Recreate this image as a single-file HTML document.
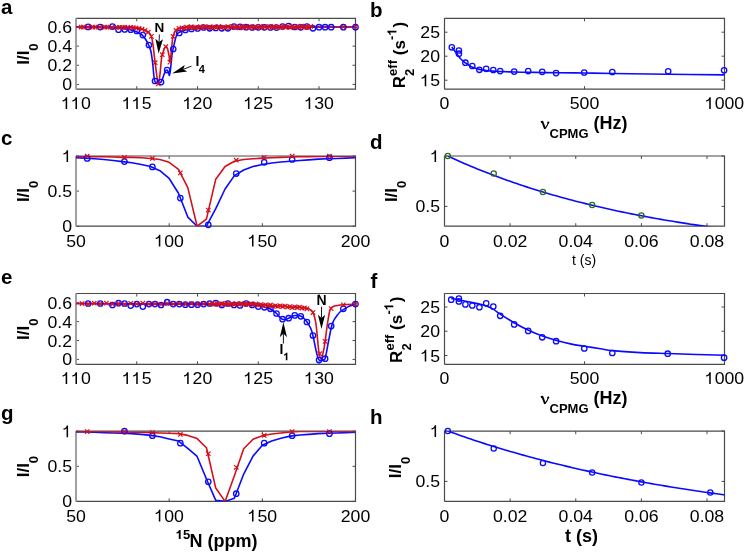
<!DOCTYPE html>
<html><head><meta charset="utf-8"><title>Figure</title>
<style>html,body{margin:0;padding:0;background:#fff;width:744px;height:552px;overflow:hidden;}svg{display:block;will-change:transform;}</style>
</head><body>
<svg width="744" height="552" viewBox="0 0 744 552" font-family='&quot;Liberation Sans&quot;, sans-serif' fill="#000">
<rect width="744" height="552" fill="#fff"/>
<defs>
<clipPath id="ca"><rect x="76" y="18.3" width="279.5" height="70.9"/></clipPath>
<clipPath id="cb"><rect x="444.5" y="18.3" width="280" height="70.9"/></clipPath>
<clipPath id="cc"><rect x="76" y="156" width="279.5" height="70.2"/></clipPath>
<clipPath id="cd"><rect x="444.5" y="156" width="280" height="70.2"/></clipPath>
<clipPath id="ce"><rect x="76" y="293.5" width="279.5" height="70.8"/></clipPath>
<clipPath id="cf"><rect x="444.5" y="293.5" width="280" height="70.8"/></clipPath>
<clipPath id="cg"><rect x="76" y="431.2" width="279.5" height="70.2"/></clipPath>
<clipPath id="ch"><rect x="444.5" y="431.2" width="280" height="70.2"/></clipPath>
</defs>
<path d="M76 89.2L76 86.2M76 18.3L76 21.3M136.76 89.2L136.76 86.2M136.76 18.3L136.76 21.3M197.52 89.2L197.52 86.2M197.52 18.3L197.52 21.3M258.28 89.2L258.28 86.2M258.28 18.3L258.28 21.3M319.04 89.2L319.04 86.2M319.04 18.3L319.04 21.3M76 84.4L79 84.4M355.5 84.4L352.5 84.4M76 65.26L79 65.26M355.5 65.26L352.5 65.26M76 46.12L79 46.12M355.5 46.12L352.5 46.12M76 26.98L79 26.98M355.5 26.98L352.5 26.98" stroke="#4a4a4a" stroke-width="1" fill="none"/>
<path d="M76 89.2L355.5 89.2L355.5 18.3L76 18.3" stroke="#4a4a4a" stroke-width="1.2" fill="none"/>
<line x1="76" y1="18.3" x2="76" y2="89.2" stroke="#a0a0a0" stroke-width="2"/>
<g clip-path="url(#ca)">
<path d="M76 27C80 27.03 93.83 27.1 100 27.2C106.17 27.3 109.67 27.43 113 27.6C116.33 27.77 117.83 27.97 120 28.2C122.17 28.43 124.17 28.7 126 29C127.83 29.3 129.33 29.58 131 30C132.67 30.42 134.5 30.9 136 31.5C137.5 32.1 138.95 33 140 33.6C141.05 34.2 141.53 34.35 142.3 35.1C143.07 35.85 143.88 37.12 144.6 38.1C145.32 39.08 145.93 39.85 146.6 41C147.27 42.15 147.88 43.28 148.6 45C149.32 46.72 150.23 48.35 150.9 51.3C151.57 54.25 152.13 58.9 152.6 62.7C153.07 66.5 153.37 71.12 153.7 74.1C154.03 77.08 154.25 79.22 154.6 80.6C154.95 81.98 155.38 82.02 155.8 82.4C156.22 82.78 156.57 82.82 157.1 82.9C157.63 82.98 158.33 83.03 159 82.9C159.67 82.77 160.45 82.98 161.1 82.1C161.75 81.22 162.23 79.3 162.9 77.6C163.57 75.9 164.4 73.15 165.1 71.9C165.8 70.65 166.52 69.92 167.1 70.1C167.68 70.28 168.2 72.13 168.6 73C169 73.87 169.17 76.07 169.5 75.3C169.83 74.53 170.18 71.83 170.6 68.4C171.02 64.97 171.58 57.93 172 54.7C172.42 51.47 172.62 51.28 173.1 49C173.58 46.72 174.32 43.28 174.9 41C175.48 38.72 176.03 36.63 176.6 35.3C177.17 33.97 177.57 33.63 178.3 33C179.03 32.37 179.88 31.97 181 31.5C182.12 31.03 183.5 30.58 185 30.2C186.5 29.82 187.5 29.53 190 29.2C192.5 28.87 195.83 28.47 200 28.2C204.17 27.93 208.33 27.77 215 27.6C221.67 27.43 216.58 27.3 240 27.2C263.42 27.1 336.25 27.03 355.5 27" stroke="#0a0aff" stroke-width="1.6" fill="none"/>
<path d="M76 27C85 27.07 119.33 27.17 130 27.4C140.67 27.63 137.57 27.95 140 28.4C142.43 28.85 143.17 29.43 144.6 30.1C146.03 30.77 147.47 31.35 148.6 32.4C149.73 33.45 150.65 34.2 151.4 36.4C152.15 38.6 152.62 42.35 153.1 45.6C153.58 48.85 153.95 53.05 154.3 55.9C154.65 58.75 154.82 59.67 155.2 62.7C155.58 65.73 156.08 70.57 156.6 74.1C157.12 77.63 157.73 83.9 158.3 83.9C158.87 83.9 159.48 78.2 160 74.1C160.52 70 161.02 62.53 161.4 59.3C161.78 56.07 161.87 56.32 162.3 54.7C162.73 53.08 163.43 50.93 164 49.6C164.57 48.27 165.13 46.9 165.7 46.7C166.27 46.5 166.83 46.87 167.4 48.4C167.97 49.93 168.68 53.62 169.1 55.9C169.52 58.18 169.57 62.48 169.9 62.1C170.23 61.72 170.72 56.93 171.1 53.6C171.48 50.27 171.87 44.97 172.2 42.1C172.53 39.23 172.65 38.1 173.1 36.4C173.55 34.7 174.32 33.03 174.9 31.9C175.48 30.77 175.93 30.18 176.6 29.6C177.27 29.02 177.5 28.73 178.9 28.4C180.3 28.07 181.48 27.8 185 27.6C188.52 27.4 171.58 27.33 200 27.2C228.42 27.07 329.58 26.87 355.5 26.8" stroke="#d4101c" stroke-width="1.6" fill="none"/>
</g>
<circle cx="88.15" cy="26.9" r="2.7" fill="none" stroke="#0a0aff" stroke-width="1.3"/>
<circle cx="100.3" cy="27.1" r="2.7" fill="none" stroke="#0a0aff" stroke-width="1.3"/>
<circle cx="112.46" cy="26.6" r="2.7" fill="none" stroke="#0a0aff" stroke-width="1.3"/>
<circle cx="118.53" cy="29.7" r="2.7" fill="none" stroke="#0a0aff" stroke-width="1.3"/>
<circle cx="124.61" cy="29.5" r="2.7" fill="none" stroke="#0a0aff" stroke-width="1.3"/>
<circle cx="130.68" cy="29.7" r="2.7" fill="none" stroke="#0a0aff" stroke-width="1.3"/>
<circle cx="136.76" cy="31" r="2.7" fill="none" stroke="#0a0aff" stroke-width="1.3"/>
<circle cx="142.84" cy="35.1" r="2.7" fill="none" stroke="#0a0aff" stroke-width="1.3"/>
<circle cx="148.91" cy="45" r="2.7" fill="none" stroke="#0a0aff" stroke-width="1.3"/>
<circle cx="154.99" cy="81" r="2.7" fill="none" stroke="#0a0aff" stroke-width="1.3"/>
<circle cx="161.07" cy="82.1" r="2.7" fill="none" stroke="#0a0aff" stroke-width="1.3"/>
<circle cx="167.14" cy="70.1" r="2.7" fill="none" stroke="#0a0aff" stroke-width="1.3"/>
<circle cx="173.22" cy="49" r="2.7" fill="none" stroke="#0a0aff" stroke-width="1.3"/>
<circle cx="179.29" cy="33" r="2.7" fill="none" stroke="#0a0aff" stroke-width="1.3"/>
<circle cx="185.37" cy="30" r="2.7" fill="none" stroke="#0a0aff" stroke-width="1.3"/>
<circle cx="191.45" cy="29" r="2.7" fill="none" stroke="#0a0aff" stroke-width="1.3"/>
<circle cx="197.52" cy="28.5" r="2.7" fill="none" stroke="#0a0aff" stroke-width="1.3"/>
<circle cx="203.6" cy="27.5" r="2.7" fill="none" stroke="#0a0aff" stroke-width="1.3"/>
<circle cx="209.67" cy="28.3" r="2.7" fill="none" stroke="#0a0aff" stroke-width="1.3"/>
<circle cx="215.75" cy="28" r="2.7" fill="none" stroke="#0a0aff" stroke-width="1.3"/>
<circle cx="221.83" cy="28.3" r="2.7" fill="none" stroke="#0a0aff" stroke-width="1.3"/>
<circle cx="227.9" cy="28.3" r="2.7" fill="none" stroke="#0a0aff" stroke-width="1.3"/>
<circle cx="233.98" cy="26.5" r="2.7" fill="none" stroke="#0a0aff" stroke-width="1.3"/>
<circle cx="240.05" cy="26.8" r="2.7" fill="none" stroke="#0a0aff" stroke-width="1.3"/>
<circle cx="246.13" cy="27.2" r="2.7" fill="none" stroke="#0a0aff" stroke-width="1.3"/>
<circle cx="252.21" cy="27.5" r="2.7" fill="none" stroke="#0a0aff" stroke-width="1.3"/>
<circle cx="258.28" cy="27.3" r="2.7" fill="none" stroke="#0a0aff" stroke-width="1.3"/>
<circle cx="264.36" cy="27.3" r="2.7" fill="none" stroke="#0a0aff" stroke-width="1.3"/>
<circle cx="270.43" cy="27.5" r="2.7" fill="none" stroke="#0a0aff" stroke-width="1.3"/>
<circle cx="276.51" cy="27.6" r="2.7" fill="none" stroke="#0a0aff" stroke-width="1.3"/>
<circle cx="282.59" cy="26.5" r="2.7" fill="none" stroke="#0a0aff" stroke-width="1.3"/>
<circle cx="288.66" cy="26" r="2.7" fill="none" stroke="#0a0aff" stroke-width="1.3"/>
<circle cx="294.74" cy="27" r="2.7" fill="none" stroke="#0a0aff" stroke-width="1.3"/>
<circle cx="300.82" cy="27.3" r="2.7" fill="none" stroke="#0a0aff" stroke-width="1.3"/>
<circle cx="306.89" cy="26.6" r="2.7" fill="none" stroke="#0a0aff" stroke-width="1.3"/>
<circle cx="312.97" cy="28.3" r="2.7" fill="none" stroke="#0a0aff" stroke-width="1.3"/>
<circle cx="319.04" cy="27.2" r="2.7" fill="none" stroke="#0a0aff" stroke-width="1.3"/>
<circle cx="325.12" cy="27.2" r="2.7" fill="none" stroke="#0a0aff" stroke-width="1.3"/>
<circle cx="331.2" cy="27.2" r="2.7" fill="none" stroke="#0a0aff" stroke-width="1.3"/>
<circle cx="343.35" cy="27.2" r="2.7" fill="none" stroke="#0a0aff" stroke-width="1.3"/>
<circle cx="355.5" cy="27.2" r="2.7" fill="none" stroke="#0a0aff" stroke-width="1.3"/>
<g>
</g>
<path d="M79 24.84L83.4 29.24M79 29.24L83.4 24.84M81.1 24.85L85.5 29.25M81.1 29.25L85.5 24.85M85.7 24.89L90.1 29.29M85.7 29.29L90.1 24.89M90.7 24.93L95.1 29.33M90.7 29.33L95.1 24.93M92.8 24.94L97.2 29.34M92.8 29.34L97.2 24.94M97.6 24.98L102 29.38M97.6 29.38L102 24.98M102.7 25.01L107.1 29.41M102.7 29.41L107.1 25.01M104.7 25.03L109.1 29.43M104.7 29.43L109.1 25.03M109.7 25.07L114.1 29.47M109.7 29.47L114.1 25.07M114.9 25.1L119.3 29.5M114.9 29.5L119.3 25.1M117.3 25.12L121.7 29.52M117.3 29.52L121.7 25.12M120.2 25.14L124.6 29.54M120.2 29.54L124.6 25.14M122.6 25.16L127 29.56M122.6 29.56L127 25.16M125.4 25.18L129.8 29.58M125.4 29.58L129.8 25.18M128.6 25.28L133 29.68M128.6 29.68L133 25.28M131.1 25.53L135.5 29.93M131.1 29.93L135.5 25.53M133.8 25.8L138.2 30.2M133.8 30.2L138.2 25.8M136.8 26.1L141.2 30.5M136.8 30.5L141.2 26.1M139.8 26.94L144.2 31.34M139.8 31.34L144.2 26.94M142.8 28.13L147.2 32.53M142.8 32.53L147.2 28.13M146.1 30.03L150.5 34.43M146.1 34.43L150.5 30.03M149.2 34.2L153.6 38.6M149.2 38.6L153.6 34.2M153 60.5L157.4 64.9M153 64.9L157.4 60.5M156.1 81.7L160.5 86.1M156.1 86.1L160.5 81.7M160.1 52.5L164.5 56.9M160.1 56.9L164.5 52.5M163.5 44.5L167.9 48.9M163.5 48.9L167.9 44.5M167.7 59.9L172.1 64.3M167.7 64.3L172.1 59.9M170.9 34.2L175.3 38.6M170.9 38.6L175.3 34.2M173.8 28.21L178.2 32.61M173.8 32.61L178.2 28.21M176.8 26.19L181.2 30.59M176.8 30.59L181.2 26.19M179.8 25.59L184.2 29.99M179.8 29.99L184.2 25.59M182.1 26.19L186.5 30.59M182.1 30.59L186.5 26.19M184.4 24.96L188.8 29.36M184.4 29.36L188.8 24.96M186.7 25.5L191.1 29.9M186.7 29.9L191.1 25.5M189 24.53L193.4 28.93M189 28.93L193.4 24.53M191.3 25.57L195.7 29.97M191.3 29.97L195.7 25.57M193.6 25.11L198 29.51M193.6 29.51L198 25.11M195.9 25.65L200.3 30.05M195.9 30.05L200.3 25.65M198.2 24.5L202.6 28.9M198.2 28.9L202.6 24.5M200.5 25.29L204.9 29.69M200.5 29.69L204.9 25.29M202.8 24.39L207.2 28.79M202.8 28.79L207.2 24.39M205.1 25.48L209.5 29.88M205.1 29.88L209.5 25.48M207.4 24.78L211.8 29.18M207.4 29.18L211.8 24.78M209.7 25.67L214.1 30.07M209.7 30.07L214.1 25.67M212 24.56L216.4 28.96M212 28.96L216.4 24.56M214.3 25.16L218.7 29.56M214.3 29.56L218.7 25.16M216.6 24.25L221 28.65M216.6 28.65L221 24.25M218.9 25.35L223.3 29.75M218.9 29.75L223.3 25.35M221.2 24.94L225.6 29.34M221.2 29.34L225.6 24.94M223.5 25.53L227.9 29.93M223.5 29.93L227.9 25.53M225.8 24.43L230.2 28.83M225.8 28.83L230.2 24.43M228.1 25.22L232.5 29.62M228.1 29.62L232.5 25.22M230.4 24.32L234.8 28.72M230.4 28.72L234.8 24.32M232.7 25.41L237.1 29.81M232.7 29.81L237.1 25.41M235 24.7L239.4 29.1M235 29.1L239.4 24.7M237.3 25.6L241.7 30M237.3 30L241.7 25.6M239.6 24.49L244 28.89M239.6 28.89L244 24.49M241.9 25.09L246.3 29.49M241.9 29.49L246.3 25.09M244.2 24.18L248.6 28.58M244.2 28.58L248.6 24.18M246.5 25.27L250.9 29.67M246.5 29.67L250.9 25.27M248.8 24.87L253.2 29.27M248.8 29.27L253.2 24.87M251.1 25.46L255.5 29.86M251.1 29.86L255.5 25.46M253.4 24.36L257.8 28.76M253.4 28.76L257.8 24.36M255.7 25.15L260.1 29.55M255.7 29.55L260.1 25.15M258 24.25L262.4 28.65M258 28.65L262.4 24.25M260.3 25.34L264.7 29.74M260.3 29.74L264.7 25.34M262.6 24.63L267 29.03M262.6 29.03L267 24.63M264.9 25.53L269.3 29.93M264.9 29.93L269.3 25.53M267.2 24.42L271.6 28.82M267.2 28.82L271.6 24.42M269.5 25.02L273.9 29.42M269.5 29.42L273.9 25.02M271.8 24.11L276.2 28.51M271.8 28.51L276.2 24.11M274.1 25.2L278.5 29.6M274.1 29.6L278.5 25.2M276.4 24.8L280.8 29.2M276.4 29.2L280.8 24.8M278.7 25.39L283.1 29.79M278.7 29.79L283.1 25.39M281 24.29L285.4 28.69M281 28.69L285.4 24.29M283.3 25.08L287.7 29.48M283.3 29.48L287.7 25.08M285.6 24.17L290 28.57M285.6 28.57L290 24.17M287.9 25.27L292.3 29.67M287.9 29.67L292.3 25.27M290.2 24.56L294.6 28.96M290.2 28.96L294.6 24.56M292.5 25.46L296.9 29.86M292.5 29.86L296.9 25.46M294.8 24.35L299.2 28.75M294.8 28.75L299.2 24.35M297.1 24.94L301.5 29.34M297.1 29.34L301.5 24.94M299.4 24.04L303.8 28.44M299.4 28.44L303.8 24.04M301.7 25.13L306.1 29.53M301.7 29.53L306.1 25.13M304 24.73L308.4 29.13M304 29.13L308.4 24.73M306.3 25.32L310.7 29.72M306.3 29.72L310.7 25.32M308.6 24.21L313 28.61M308.6 28.61L313 24.21M341.2 24.63L345.6 29.03M341.2 29.03L345.6 24.63M353.3 24.6L357.7 29M353.3 29L357.7 24.6" stroke="#d4101c" stroke-width="1.2" fill="none"/>
<g>
</g>
<text transform="translate(72 90.4) scale(1.04 1)" font-size="17" font-weight="normal" text-anchor="end" >0</text>
<text transform="translate(72 71.26) scale(1.04 1)" font-size="17" font-weight="normal" text-anchor="end" >0.2</text>
<text transform="translate(72 52.12) scale(1.04 1)" font-size="17" font-weight="normal" text-anchor="end" >0.4</text>
<text transform="translate(72 32.98) scale(1.04 1)" font-size="17" font-weight="normal" text-anchor="end" >0.6</text>
<path transform="translate(61.25 109) scale(0.00863 -0.00830)" d="M686 0L510 0L510 1060Q420 985 300 935Q220 905 150 890L150 1050Q300 1090 410 1180Q490 1250 530 1409L686 1409Z"/>
<path transform="translate(71.08 109) scale(0.00863 -0.00830)" d="M686 0L510 0L510 1060Q420 985 300 935Q220 905 150 890L150 1050Q300 1090 410 1180Q490 1250 530 1409L686 1409Z"/>
<text transform="translate(76 109) scale(1.04 1)" font-size="17" font-weight="normal" text-anchor="middle" >&#8199;&#8199;0</text>
<path transform="translate(122.01 109) scale(0.00863 -0.00830)" d="M686 0L510 0L510 1060Q420 985 300 935Q220 905 150 890L150 1050Q300 1090 410 1180Q490 1250 530 1409L686 1409Z"/>
<path transform="translate(131.84 109) scale(0.00863 -0.00830)" d="M686 0L510 0L510 1060Q420 985 300 935Q220 905 150 890L150 1050Q300 1090 410 1180Q490 1250 530 1409L686 1409Z"/>
<text transform="translate(136.76 109) scale(1.04 1)" font-size="17" font-weight="normal" text-anchor="middle" >&#8199;&#8199;5</text>
<path transform="translate(182.77 109) scale(0.00863 -0.00830)" d="M686 0L510 0L510 1060Q420 985 300 935Q220 905 150 890L150 1050Q300 1090 410 1180Q490 1250 530 1409L686 1409Z"/>
<text transform="translate(197.52 109) scale(1.04 1)" font-size="17" font-weight="normal" text-anchor="middle" >&#8199;20</text>
<path transform="translate(243.53 109) scale(0.00863 -0.00830)" d="M686 0L510 0L510 1060Q420 985 300 935Q220 905 150 890L150 1050Q300 1090 410 1180Q490 1250 530 1409L686 1409Z"/>
<text transform="translate(258.28 109) scale(1.04 1)" font-size="17" font-weight="normal" text-anchor="middle" >&#8199;25</text>
<path transform="translate(304.29 109) scale(0.00863 -0.00830)" d="M686 0L510 0L510 1060Q420 985 300 935Q220 905 150 890L150 1050Q300 1090 410 1180Q490 1250 530 1409L686 1409Z"/>
<text transform="translate(319.04 109) scale(1.04 1)" font-size="17" font-weight="normal" text-anchor="middle" >&#8199;30</text>
<text transform="translate(29 64.8) rotate(-90)" font-size="17" font-weight="bold">I/I<tspan font-size="13" dy="8.6">0</tspan></text>
<text transform="translate(1 13.6)" font-size="20.5" font-weight="bold" text-anchor="start" >a</text>
<text transform="translate(159.3 31.8)" font-size="13.5" font-weight="bold" text-anchor="middle" >N</text>
<path d="M158.6 53.5L163 39.16L159.08 41.9L155.4 38.84Z" fill="#000"/>
<line x1="159.08" y1="41.9" x2="159.4" y2="34.5" stroke="#000" stroke-width="0.9"/>
<path d="M172.1 73.5L187.23 71.58L183.22 69.34L184.77 65.02Z" fill="#000"/>
<line x1="183.22" y1="69.34" x2="191.5" y2="66.1" stroke="#000" stroke-width="0.9"/>
<text transform="translate(195.5 65.8)" font-size="14" font-weight="bold" text-anchor="start" >I</text>
<text transform="translate(198.7 72.8)" font-size="11" font-weight="bold" text-anchor="start" >4</text>
<path d="M444.5 89.2L444.5 86.2M444.5 18.3L444.5 21.3M584.5 89.2L584.5 86.2M584.5 18.3L584.5 21.3M724.5 89.2L724.5 86.2M724.5 18.3L724.5 21.3M444.5 80.2L447.5 80.2M724.5 80.2L721.5 80.2M444.5 56.2L447.5 56.2M724.5 56.2L721.5 56.2M444.5 32.2L447.5 32.2M724.5 32.2L721.5 32.2" stroke="#4a4a4a" stroke-width="1" fill="none"/>
<path d="M444.5 89.2L724.5 89.2L724.5 18.3L444.5 18.3" stroke="#4a4a4a" stroke-width="1.2" fill="none"/>
<line x1="444.5" y1="18.3" x2="444.5" y2="89.2" stroke="#4a4a4a" stroke-width="1.2"/>
<g clip-path="url(#cb)">
<path d="M451.78 47.08C452.43 47.96 454.58 50.84 455.7 52.36C456.82 53.88 457.47 54.92 458.5 56.2C459.53 57.48 460.69 58.92 461.86 60.04C463.03 61.16 464.19 61.96 465.5 62.92C466.81 63.88 468.53 65.08 469.7 65.8C470.87 66.52 470.87 66.64 472.5 67.24C474.13 67.84 477.17 68.84 479.5 69.4C481.83 69.96 484.17 70.32 486.5 70.6C488.83 70.88 491.17 70.92 493.5 71.08C495.83 71.24 497 71.4 500.5 71.56C504 71.72 509.83 71.92 514.5 72.04C519.17 72.16 523.83 72.2 528.5 72.28C533.17 72.36 537.83 72.44 542.5 72.52C547.17 72.6 549.5 72.68 556.5 72.76C563.5 72.84 575.17 72.88 584.5 73C593.83 73.12 598.5 73.28 612.5 73.48C626.5 73.68 649.83 73.96 668.5 74.2C687.17 74.44 715.17 74.8 724.5 74.92" stroke="#0a0aff" stroke-width="1.6" fill="none"/>
</g>
<circle cx="451.8" cy="47.3" r="2.7" fill="none" stroke="#0a0aff" stroke-width="1.3"/>
<circle cx="458.9" cy="50.5" r="2.7" fill="none" stroke="#0a0aff" stroke-width="1.3"/>
<circle cx="458.9" cy="53.7" r="2.7" fill="none" stroke="#0a0aff" stroke-width="1.3"/>
<circle cx="465.4" cy="62.7" r="2.7" fill="none" stroke="#0a0aff" stroke-width="1.3"/>
<circle cx="472.3" cy="66" r="2.7" fill="none" stroke="#0a0aff" stroke-width="1.3"/>
<circle cx="479.4" cy="69.8" r="2.7" fill="none" stroke="#0a0aff" stroke-width="1.3"/>
<circle cx="486.2" cy="68.8" r="2.7" fill="none" stroke="#0a0aff" stroke-width="1.3"/>
<circle cx="493.3" cy="70" r="2.7" fill="none" stroke="#0a0aff" stroke-width="1.3"/>
<circle cx="500.2" cy="71.1" r="2.7" fill="none" stroke="#0a0aff" stroke-width="1.3"/>
<circle cx="514.2" cy="71.6" r="2.7" fill="none" stroke="#0a0aff" stroke-width="1.3"/>
<circle cx="528.2" cy="71.1" r="2.7" fill="none" stroke="#0a0aff" stroke-width="1.3"/>
<circle cx="542.2" cy="71.8" r="2.7" fill="none" stroke="#0a0aff" stroke-width="1.3"/>
<circle cx="556.1" cy="73.1" r="2.7" fill="none" stroke="#0a0aff" stroke-width="1.3"/>
<circle cx="584.2" cy="72.5" r="2.7" fill="none" stroke="#0a0aff" stroke-width="1.3"/>
<circle cx="612.3" cy="72" r="2.7" fill="none" stroke="#0a0aff" stroke-width="1.3"/>
<circle cx="668.2" cy="71.3" r="2.7" fill="none" stroke="#0a0aff" stroke-width="1.3"/>
<circle cx="724.1" cy="70.3" r="2.7" fill="none" stroke="#0a0aff" stroke-width="1.3"/>
<g>
</g>
<path transform="translate(420.33 86.2) scale(0.00863 -0.00830)" d="M686 0L510 0L510 1060Q420 985 300 935Q220 905 150 890L150 1050Q300 1090 410 1180Q490 1250 530 1409L686 1409Z"/>
<text transform="translate(440 86.2) scale(1.04 1)" font-size="17" font-weight="normal" text-anchor="end" >&#8199;5</text>
<text transform="translate(440 62.2) scale(1.04 1)" font-size="17" font-weight="normal" text-anchor="end" >20</text>
<text transform="translate(440 38.2) scale(1.04 1)" font-size="17" font-weight="normal" text-anchor="end" >25</text>
<text transform="translate(444.5 109) scale(1.04 1)" font-size="17" font-weight="normal" text-anchor="middle" >0</text>
<text transform="translate(584.5 109) scale(1.04 1)" font-size="17" font-weight="normal" text-anchor="middle" >500</text>
<path transform="translate(704.83 109) scale(0.00863 -0.00830)" d="M686 0L510 0L510 1060Q420 985 300 935Q220 905 150 890L150 1050Q300 1090 410 1180Q490 1250 530 1409L686 1409Z"/>
<text transform="translate(724.5 109) scale(1.04 1)" font-size="17" font-weight="normal" text-anchor="middle" >&#8199;000</text>
<text transform="translate(370 17.2)" font-size="20.5" font-weight="bold" text-anchor="start" >b</text>
<g transform="translate(404.6 88.2) rotate(-90)" font-weight="bold"><text font-size="17">R</text><text x="12.3" y="9.4" font-size="13">2</text><text x="12.3" y="-8" font-size="13">eff</text><text x="33" font-size="17">(s</text><text x="48.3" y="-8.2" font-size="13">-</text><path transform="translate(52.63 -8.2) scale(0.00635 -0.00635)" d="M760 0L470 0L470 1000Q360 930 250 890Q180 865 120 855L120 1080Q300 1120 400 1210Q470 1280 500 1409L760 1409Z"/><text x="60.6" font-size="17">)</text></g>
<path d="M540.9 122.4 L542.4 121.7 L545 128.8" stroke="#000" stroke-width="1.9" stroke-linejoin="round" fill="none"/>
<path d="M545 128.6 Q547.6 125.6 548.4 122.4" stroke="#000" stroke-width="1.1" fill="none"/>
<circle cx="548.3" cy="122.6" r="1.1" fill="#000"/>
<text x="549.5" y="137.6" font-size="13" font-weight="bold">CPMG</text>
<text x="593.5" y="129" font-size="18" font-weight="bold">(Hz)</text>
<path d="M76 226.2L76 223.2M76 156L76 159M169.17 226.2L169.17 223.2M169.17 156L169.17 159M262.33 226.2L262.33 223.2M262.33 156L262.33 159M355.5 226.2L355.5 223.2M355.5 156L355.5 159M76 226.2L79 226.2M355.5 226.2L352.5 226.2M76 191.1L79 191.1M355.5 191.1L352.5 191.1M76 156L79 156M355.5 156L352.5 156" stroke="#4a4a4a" stroke-width="1" fill="none"/>
<path d="M76 226.2L355.5 226.2L355.5 156L76 156" stroke="#4a4a4a" stroke-width="1.2" fill="none"/>
<line x1="76" y1="156" x2="76" y2="226.2" stroke="#a0a0a0" stroke-width="2"/>
<g clip-path="url(#cc)">
<path d="M76 157.75 L85.32 158.11 L94.63 158.81 L103.95 159.51 L113.27 160.56 L122.58 161.62 L131.9 162.67 L141.22 164.42 L150.53 166.53 L159.85 170.74 L169.17 178.46 L178.48 193.21 L187.8 217.07 L197.12 226.2 L206.43 226.2 L215.75 208.65 L225.07 188.99 L234.38 175.66 L243.7 170.04 L253.02 166.53 L262.33 164.42 L271.65 163.02 L280.97 161.97 L290.28 161.26 L299.6 160.56 L308.92 159.86 L318.23 159.16 L327.55 158.81 L336.87 158.46 L346.18 158.11 L355.5 157.75" stroke="#0a0aff" stroke-width="1.6" fill="none" stroke-linejoin="round"/>
<path d="M76 156.35 L85.32 156.35 L94.63 156.7 L103.95 156.7 L113.27 157.05 L122.58 157.4 L131.9 157.4 L141.22 157.75 L150.53 158.46 L159.85 159.51 L169.17 162.32 L178.48 169.34 L187.8 187.59 L197.12 226.2 L206.43 219.18 L215.75 179.17 L225.07 166.53 L234.38 161.26 L243.7 159.51 L253.02 158.81 L262.33 158.11 L271.65 157.75 L280.97 157.4 L290.28 157.05 L299.6 156.7 L308.92 156.7 L318.23 156.35 L327.55 156.35 L336.87 156.21 L346.18 156.14 L355.5 156.14" stroke="#d4101c" stroke-width="1.6" fill="none" stroke-linejoin="round"/>
</g>
<circle cx="87.18" cy="158.46" r="2.7" fill="none" stroke="#0a0aff" stroke-width="1.3"/>
<circle cx="124.45" cy="161.62" r="2.7" fill="none" stroke="#0a0aff" stroke-width="1.3"/>
<circle cx="152.4" cy="166.88" r="2.7" fill="none" stroke="#0a0aff" stroke-width="1.3"/>
<circle cx="180.35" cy="198.12" r="2.7" fill="none" stroke="#0a0aff" stroke-width="1.3"/>
<circle cx="208.3" cy="224.8" r="2.7" fill="none" stroke="#0a0aff" stroke-width="1.3"/>
<circle cx="236.25" cy="173.55" r="2.7" fill="none" stroke="#0a0aff" stroke-width="1.3"/>
<circle cx="264.2" cy="162.32" r="2.7" fill="none" stroke="#0a0aff" stroke-width="1.3"/>
<circle cx="292.15" cy="159.51" r="2.7" fill="none" stroke="#0a0aff" stroke-width="1.3"/>
<circle cx="329.41" cy="157.75" r="2.7" fill="none" stroke="#0a0aff" stroke-width="1.3"/>
<g>
</g>
<path d="M84.98 153.8L89.38 158.2M84.98 158.2L89.38 153.8M122.25 155.2L126.65 159.6M122.25 159.6L126.65 155.2M150.2 156.26L154.6 160.66M150.2 160.66L154.6 156.26M178.15 170.65L182.55 175.05M178.15 175.05L182.55 170.65M206.1 207.85L210.5 212.25M206.1 212.25L210.5 207.85M234.05 158.01L238.45 162.41M234.05 162.41L238.45 158.01M262 155.2L266.4 159.6M262 159.6L266.4 155.2M289.95 154.01L294.35 158.41M289.95 158.41L294.35 154.01M327.21 154.01L331.61 158.41M327.21 158.41L331.61 154.01" stroke="#d4101c" stroke-width="1.2" fill="none"/>
<g>
</g>
<text transform="translate(72 232.2) scale(1.04 1)" font-size="17" font-weight="normal" text-anchor="end" >0</text>
<text transform="translate(72 197.1) scale(1.04 1)" font-size="17" font-weight="normal" text-anchor="end" >0.5</text>
<path transform="translate(62.17 162) scale(0.00863 -0.00830)" d="M686 0L510 0L510 1060Q420 985 300 935Q220 905 150 890L150 1050Q300 1090 410 1180Q490 1250 530 1409L686 1409Z"/>
<text transform="translate(72 162) scale(1.04 1)" font-size="17" font-weight="normal" text-anchor="end" >&#8199;</text>
<text transform="translate(76 246.5) scale(1.04 1)" font-size="17" font-weight="normal" text-anchor="middle" >50</text>
<path transform="translate(154.42 246.5) scale(0.00863 -0.00830)" d="M686 0L510 0L510 1060Q420 985 300 935Q220 905 150 890L150 1050Q300 1090 410 1180Q490 1250 530 1409L686 1409Z"/>
<text transform="translate(169.17 246.5) scale(1.04 1)" font-size="17" font-weight="normal" text-anchor="middle" >&#8199;00</text>
<path transform="translate(247.58 246.5) scale(0.00863 -0.00830)" d="M686 0L510 0L510 1060Q420 985 300 935Q220 905 150 890L150 1050Q300 1090 410 1180Q490 1250 530 1409L686 1409Z"/>
<text transform="translate(262.33 246.5) scale(1.04 1)" font-size="17" font-weight="normal" text-anchor="middle" >&#8199;50</text>
<text transform="translate(355.5 246.5) scale(1.04 1)" font-size="17" font-weight="normal" text-anchor="middle" >200</text>
<text transform="translate(29 202.1) rotate(-90)" font-size="17" font-weight="bold">I/I<tspan font-size="13" dy="8.6">0</tspan></text>
<text transform="translate(1 145.3)" font-size="20.5" font-weight="bold" text-anchor="start" >c</text>
<path d="M444.5 226.2L444.5 223.2M444.5 156L444.5 159M510.12 226.2L510.12 223.2M510.12 156L510.12 159M575.75 226.2L575.75 223.2M575.75 156L575.75 159M641.38 226.2L641.38 223.2M641.38 156L641.38 159M707 226.2L707 223.2M707 156L707 159M444.5 206.4L447.5 206.4M724.5 206.4L721.5 206.4M444.5 156L447.5 156M724.5 156L721.5 156" stroke="#4a4a4a" stroke-width="1" fill="none"/>
<path d="M444.5 226.2L724.5 226.2L724.5 156L444.5 156" stroke="#4a4a4a" stroke-width="1.2" fill="none"/>
<line x1="444.5" y1="156" x2="444.5" y2="226.2" stroke="#4a4a4a" stroke-width="1.2"/>
<g clip-path="url(#cd)">
<path d="M447.78 156 L451.06 157.52 L454.34 159.03 L457.62 160.5 L460.91 161.96 L464.19 163.4 L467.47 164.81 L470.75 166.2 L474.03 167.57 L477.31 168.92 L480.59 170.25 L483.88 171.56 L487.16 172.85 L490.44 174.12 L493.72 175.37 L497 176.6 L500.28 177.81 L503.56 179.01 L506.84 180.18 L510.12 181.34 L513.41 182.48 L516.69 183.61 L519.97 184.71 L523.25 185.8 L526.53 186.88 L529.81 187.94 L533.09 188.98 L536.38 190 L539.66 191.01 L542.94 192.01 L546.22 192.99 L549.5 193.95 L552.78 194.9 L556.06 195.84 L559.34 196.76 L562.62 197.67 L565.91 198.56 L569.19 199.45 L572.47 200.31 L575.75 201.17 L579.03 202.01 L582.31 202.84 L585.59 203.65 L588.88 204.46 L592.16 205.25 L595.44 206.03 L598.72 206.8 L602 207.55 L605.28 208.3 L608.56 209.03 L611.84 209.75 L615.12 210.46 L618.41 211.17 L621.69 211.86 L624.97 212.54 L628.25 213.21 L631.53 213.86 L634.81 214.51 L638.09 215.15 L641.38 215.78 L644.66 216.4 L647.94 217.01 L651.22 217.62 L654.5 218.21 L657.78 218.79 L661.06 219.37 L664.34 219.93 L667.62 220.49 L670.91 221.04 L674.19 221.58 L677.47 222.11 L680.75 222.64 L684.03 223.16 L687.31 223.66 L690.59 224.17 L693.88 224.66 L697.16 225.14 L700.44 225.62 L703.72 226.1 L707 226.56 L710.28 227.02 L713.56 227.47 L716.84 227.91 L720.12 228.35 L723.41 228.78 L726.69 229.2 L729.97 229.62 L733.25 230.03 L736.53 230.44 L739.81 230.83" stroke="#0a0aff" stroke-width="1.6" fill="none"/>
</g>
<circle cx="447.78" cy="156" r="2.6" fill="none" stroke="#2d7016" stroke-width="1.3"/>
<circle cx="493.72" cy="173.54" r="2.6" fill="none" stroke="#2d7016" stroke-width="1.3"/>
<circle cx="542.94" cy="191.99" r="2.6" fill="none" stroke="#2d7016" stroke-width="1.3"/>
<circle cx="592.16" cy="204.99" r="2.6" fill="none" stroke="#2d7016" stroke-width="1.3"/>
<circle cx="641.38" cy="215.47" r="2.6" fill="none" stroke="#2d7016" stroke-width="1.3"/>
<g>
</g>
<text transform="translate(440 212.4) scale(1.04 1)" font-size="17" font-weight="normal" text-anchor="end" >0.5</text>
<path transform="translate(430.17 162) scale(0.00863 -0.00830)" d="M686 0L510 0L510 1060Q420 985 300 935Q220 905 150 890L150 1050Q300 1090 410 1180Q490 1250 530 1409L686 1409Z"/>
<text transform="translate(440 162) scale(1.04 1)" font-size="17" font-weight="normal" text-anchor="end" >&#8199;</text>
<text transform="translate(444.5 246.5) scale(1.04 1)" font-size="17" font-weight="normal" text-anchor="middle" >0</text>
<text transform="translate(510.12 246.5) scale(1.04 1)" font-size="17" font-weight="normal" text-anchor="middle" >0.02</text>
<text transform="translate(575.75 246.5) scale(1.04 1)" font-size="17" font-weight="normal" text-anchor="middle" >0.04</text>
<text transform="translate(641.38 246.5) scale(1.04 1)" font-size="17" font-weight="normal" text-anchor="middle" >0.06</text>
<text transform="translate(707 246.5) scale(1.04 1)" font-size="17" font-weight="normal" text-anchor="middle" >0.08</text>
<text transform="translate(397.4 202.1) rotate(-90)" font-size="17" font-weight="bold">I/I<tspan font-size="13" dy="8.6">0</tspan></text>
<text transform="translate(584 265)" font-size="14" font-weight="normal" text-anchor="middle" >t (s)</text>
<text transform="translate(370 148.7)" font-size="20.5" font-weight="bold" text-anchor="start" >d</text>
<path d="M76 364.3L76 361.3M76 293.5L76 296.5M136.76 364.3L136.76 361.3M136.76 293.5L136.76 296.5M197.52 364.3L197.52 361.3M197.52 293.5L197.52 296.5M258.28 364.3L258.28 361.3M258.28 293.5L258.28 296.5M319.04 364.3L319.04 361.3M319.04 293.5L319.04 296.5M76 359.4L79 359.4M355.5 359.4L352.5 359.4M76 340.52L79 340.52M355.5 340.52L352.5 340.52M76 321.64L79 321.64M355.5 321.64L352.5 321.64M76 302.76L79 302.76M355.5 302.76L352.5 302.76" stroke="#4a4a4a" stroke-width="1" fill="none"/>
<path d="M76 364.3L355.5 364.3L355.5 293.5L76 293.5" stroke="#4a4a4a" stroke-width="1.2" fill="none"/>
<line x1="76" y1="293.5" x2="76" y2="364.3" stroke="#a0a0a0" stroke-width="2"/>
<g clip-path="url(#ce)">
<path d="M76 303.5C88.33 303.58 129.33 303.87 150 304C170.67 304.13 185 304.17 200 304.3C215 304.43 230.83 304.6 240 304.8C249.17 305 251.33 305.22 255 305.5C258.67 305.78 259.83 306.08 262 306.5C264.17 306.92 266.33 307.42 268 308C269.67 308.58 270.57 309.08 272 310C273.43 310.92 275.27 312.25 276.6 313.5C277.93 314.75 278.93 316.5 280 317.5C281.07 318.5 282 319.2 283 319.5C284 319.8 285 319.55 286 319.3C287 319.05 288 318.5 289 318C290 317.5 290.93 316.72 292 316.3C293.07 315.88 293.95 315.53 295.4 315.5C296.85 315.47 299.27 315.6 300.7 316.1C302.13 316.6 302.98 317.55 304 318.5C305.02 319.45 305.8 320.38 306.8 321.8C307.8 323.22 309.12 325.27 310 327C310.88 328.73 311.35 329.53 312.1 332.2C312.85 334.87 313.72 339.42 314.5 343C315.28 346.58 316.08 350.92 316.8 353.7C317.52 356.48 318.18 358.6 318.8 359.7C319.42 360.8 319.93 360.3 320.5 360.3C321.07 360.3 321.43 360.02 322.2 359.7C322.97 359.38 324.1 361.18 325.1 358.4C326.1 355.62 327.12 348.37 328.2 343C329.28 337.63 330.63 330.03 331.6 326.2C332.57 322.37 333.1 321.78 334 320C334.9 318.22 336 316.83 337 315.5C338 314.17 338.88 313.02 340 312C341.12 310.98 342.08 310.38 343.7 309.4C345.32 308.42 347.73 306.92 349.7 306.1C351.67 305.28 354.53 304.77 355.5 304.5" stroke="#0a0aff" stroke-width="1.6" fill="none"/>
<path d="M76 303.5C88.33 303.55 121 303.72 150 303.8C179 303.88 230 303.72 250 304C270 304.28 263.33 305.03 270 305.5C276.67 305.97 283.98 306.37 290 306.8C296.02 307.23 302.77 307.65 306.1 308.1C309.43 308.55 308.88 308.83 310 309.5C311.12 310.17 312.05 310.85 312.8 312.1C313.55 313.35 313.93 314.77 314.5 317C315.07 319.23 315.48 319.83 316.2 325.5C316.92 331.17 317.98 345.52 318.8 351C319.62 356.48 320.32 358.4 321.1 358.4C321.88 358.4 322.83 353.8 323.5 351C324.17 348.2 324.42 346.28 325.1 341.6C325.78 336.92 326.75 328.27 327.6 322.9C328.45 317.53 329.08 312.2 330.2 309.4C331.32 306.6 332.05 306.88 334.3 306.1C336.55 305.32 340.17 305.02 343.7 304.7C347.23 304.38 353.53 304.28 355.5 304.2" stroke="#d4101c" stroke-width="1.6" fill="none"/>
</g>
<circle cx="88.15" cy="303.5" r="2.7" fill="none" stroke="#0a0aff" stroke-width="1.3"/>
<circle cx="100.3" cy="303.5" r="2.7" fill="none" stroke="#0a0aff" stroke-width="1.3"/>
<circle cx="112.46" cy="305" r="2.7" fill="none" stroke="#0a0aff" stroke-width="1.3"/>
<circle cx="118.53" cy="303.2" r="2.7" fill="none" stroke="#0a0aff" stroke-width="1.3"/>
<circle cx="124.61" cy="303.5" r="2.7" fill="none" stroke="#0a0aff" stroke-width="1.3"/>
<circle cx="130.68" cy="305.6" r="2.7" fill="none" stroke="#0a0aff" stroke-width="1.3"/>
<circle cx="136.76" cy="304.1" r="2.7" fill="none" stroke="#0a0aff" stroke-width="1.3"/>
<circle cx="142.84" cy="306.6" r="2.7" fill="none" stroke="#0a0aff" stroke-width="1.3"/>
<circle cx="148.91" cy="304.1" r="2.7" fill="none" stroke="#0a0aff" stroke-width="1.3"/>
<circle cx="154.99" cy="304.1" r="2.7" fill="none" stroke="#0a0aff" stroke-width="1.3"/>
<circle cx="161.07" cy="305" r="2.7" fill="none" stroke="#0a0aff" stroke-width="1.3"/>
<circle cx="167.14" cy="302.2" r="2.7" fill="none" stroke="#0a0aff" stroke-width="1.3"/>
<circle cx="173.22" cy="304.1" r="2.7" fill="none" stroke="#0a0aff" stroke-width="1.3"/>
<circle cx="179.29" cy="304.1" r="2.7" fill="none" stroke="#0a0aff" stroke-width="1.3"/>
<circle cx="185.37" cy="304.7" r="2.7" fill="none" stroke="#0a0aff" stroke-width="1.3"/>
<circle cx="191.45" cy="304.7" r="2.7" fill="none" stroke="#0a0aff" stroke-width="1.3"/>
<circle cx="197.52" cy="304.7" r="2.7" fill="none" stroke="#0a0aff" stroke-width="1.3"/>
<circle cx="203.6" cy="304.1" r="2.7" fill="none" stroke="#0a0aff" stroke-width="1.3"/>
<circle cx="209.67" cy="303.5" r="2.7" fill="none" stroke="#0a0aff" stroke-width="1.3"/>
<circle cx="215.75" cy="303.2" r="2.7" fill="none" stroke="#0a0aff" stroke-width="1.3"/>
<circle cx="221.83" cy="305" r="2.7" fill="none" stroke="#0a0aff" stroke-width="1.3"/>
<circle cx="227.9" cy="303.5" r="2.7" fill="none" stroke="#0a0aff" stroke-width="1.3"/>
<circle cx="233.98" cy="305" r="2.7" fill="none" stroke="#0a0aff" stroke-width="1.3"/>
<circle cx="240.05" cy="305.4" r="2.7" fill="none" stroke="#0a0aff" stroke-width="1.3"/>
<circle cx="246.13" cy="303.5" r="2.7" fill="none" stroke="#0a0aff" stroke-width="1.3"/>
<circle cx="252.21" cy="305" r="2.7" fill="none" stroke="#0a0aff" stroke-width="1.3"/>
<circle cx="258.28" cy="306.6" r="2.7" fill="none" stroke="#0a0aff" stroke-width="1.3"/>
<circle cx="264.36" cy="307.3" r="2.7" fill="none" stroke="#0a0aff" stroke-width="1.3"/>
<circle cx="270.43" cy="308.8" r="2.7" fill="none" stroke="#0a0aff" stroke-width="1.3"/>
<circle cx="276.51" cy="313.5" r="2.7" fill="none" stroke="#0a0aff" stroke-width="1.3"/>
<circle cx="282.59" cy="319.2" r="2.7" fill="none" stroke="#0a0aff" stroke-width="1.3"/>
<circle cx="288.66" cy="318.2" r="2.7" fill="none" stroke="#0a0aff" stroke-width="1.3"/>
<circle cx="294.74" cy="315.4" r="2.7" fill="none" stroke="#0a0aff" stroke-width="1.3"/>
<circle cx="300.82" cy="316.3" r="2.7" fill="none" stroke="#0a0aff" stroke-width="1.3"/>
<circle cx="306.89" cy="322" r="2.7" fill="none" stroke="#0a0aff" stroke-width="1.3"/>
<circle cx="312.97" cy="335.5" r="2.7" fill="none" stroke="#0a0aff" stroke-width="1.3"/>
<circle cx="319.04" cy="360" r="2.7" fill="none" stroke="#0a0aff" stroke-width="1.3"/>
<circle cx="325.12" cy="358.7" r="2.7" fill="none" stroke="#0a0aff" stroke-width="1.3"/>
<circle cx="331.2" cy="326.1" r="2.7" fill="none" stroke="#0a0aff" stroke-width="1.3"/>
<circle cx="343.35" cy="308.8" r="2.7" fill="none" stroke="#0a0aff" stroke-width="1.3"/>
<circle cx="355.5" cy="304.1" r="2.7" fill="none" stroke="#0a0aff" stroke-width="1.3"/>
<g>
</g>
<path d="M79.88 301.32L84.28 305.72M79.88 305.72L84.28 301.32M85.95 301.83L90.35 306.23M85.95 306.23L90.35 301.83M92.03 300.97L96.43 305.37M92.03 305.37L96.43 300.97M98.1 301.64L102.5 306.04M98.1 306.04L102.5 301.64M104.18 300.94L108.58 305.34M104.18 305.34L108.58 300.94M110.26 301.85L114.66 306.25M110.26 306.25L114.66 301.85M116.33 301.31L120.73 305.71M116.33 305.71L120.73 301.31M122.41 302.06L126.81 306.46M122.41 306.46L126.81 302.06M128.48 301.2L132.88 305.6M128.48 305.6L132.88 301.2M134.56 301.71L138.96 306.11M134.56 306.11L138.96 301.71M140.64 301.01L145.04 305.41M140.64 305.41L145.04 301.01M146.71 301.92L151.11 306.32M146.71 306.32L151.11 301.92M152.79 301.61L157.19 306.01M152.79 306.01L157.19 301.61M158.87 302.1L163.27 306.5M158.87 306.5L163.27 302.1M164.94 301.23L169.34 305.63M164.94 305.63L169.34 301.23M171.02 301.89L175.42 306.29M171.02 306.29L175.42 301.89M177.09 301.18L181.49 305.58M177.09 305.58L181.49 301.18M183.17 302.07L187.57 306.47M183.17 306.47L187.57 302.07M189.25 301.52L193.65 305.92M189.25 305.92L193.65 301.52M195.32 302.26L199.72 306.66M195.32 306.66L199.72 302.26M201.4 301.39L205.8 305.79M201.4 305.79L205.8 301.39M207.47 301.88L211.87 306.28M207.47 306.28L211.87 301.88M209.9 301.16L214.3 305.56M209.9 305.56L214.3 301.16M212.33 302.05L216.73 306.45M212.33 306.45L216.73 302.05M214.77 301.73L219.17 306.13M214.77 306.13L219.17 301.73M217.2 302.22L221.6 306.62M217.2 306.62L221.6 302.22M219.63 301.34L224.03 305.74M219.63 305.74L224.03 301.34M222.06 301.99L226.46 306.39M222.06 306.39L226.46 301.99M224.49 301.27L228.89 305.67M224.49 305.67L228.89 301.27M226.92 302.16L231.32 306.56M226.92 306.56L231.32 302.16M229.35 301.6L233.75 306M229.35 306L233.75 301.6M231.78 302.33L236.18 306.73M231.78 306.73L236.18 302.33M234.21 301.45L238.61 305.85M234.21 305.85L238.61 301.45M236.64 301.94L241.04 306.34M236.64 306.34L241.04 301.94M239.07 301.22L243.47 305.62M239.07 305.62L243.47 301.22M241.5 302.11L245.9 306.51M241.5 306.51L245.9 302.11M243.93 301.79L248.33 306.19M243.93 306.19L248.33 301.79M246.36 302.28L250.76 306.68M246.36 306.68L250.76 302.28M248.79 301.47L253.19 305.87M248.79 305.87L253.19 301.47M251.22 302.3L255.62 306.7M251.22 306.7L255.62 302.3M253.65 301.76L258.05 306.16M253.65 306.16L258.05 301.76M256.08 302.82L260.48 307.22M256.08 307.22L260.48 302.82M258.51 302.44L262.91 306.84M258.51 306.84L262.91 302.44M260.94 303.35L265.34 307.75M260.94 307.75L265.34 303.35M263.37 302.65L267.77 307.05M263.37 307.05L267.77 302.65M265.8 303.31L270.2 307.71M265.8 307.71L270.2 303.31M268.23 302.77L272.63 307.17M268.23 307.17L272.63 302.77M270.67 303.81L275.07 308.21M270.67 308.21L275.07 303.81M273.1 303.64L277.5 308.04M273.1 308.04L277.5 303.64M275.53 304.28L279.93 308.68M275.53 308.68L279.93 304.28M277.96 303.56L282.36 307.96M277.96 307.96L282.36 303.56M280.39 304.36L284.79 308.76M280.39 308.76L284.79 304.36M282.82 303.8L287.22 308.2M282.82 308.2L287.22 303.8M285.25 304.83L289.65 309.23M285.25 309.23L289.65 304.83M287.68 304.43L292.08 308.83M287.68 308.83L292.08 304.43M290.11 305.35L294.51 309.75M290.11 309.75L294.51 305.35M292.54 304.66L296.94 309.06M292.54 309.06L296.94 304.66M294.97 305.34L299.37 309.74M294.97 309.74L299.37 305.34M297.4 304.82L301.8 309.22M297.4 309.22L301.8 304.82M299.83 305.89L304.23 310.29M299.83 310.29L304.23 305.89M302.26 305.77L306.66 310.17M302.26 310.17L306.66 305.77M304.69 306.66L309.09 311.06M304.69 311.06L309.09 306.66M310.77 310.38L315.17 314.78M310.77 314.78L315.17 310.38M317.45 351.54L321.85 355.94M317.45 355.94L321.85 351.54M322.92 339.25L327.32 343.65M322.92 343.65L327.32 339.25M329 306.4L333.4 310.8M329 310.8L333.4 306.4M341.15 302.55L345.55 306.95M341.15 306.95L345.55 302.55M353.3 302L357.7 306.4M353.3 306.4L357.7 302" stroke="#d4101c" stroke-width="1.2" fill="none"/>
<g>
</g>
<text transform="translate(72 365.4) scale(1.04 1)" font-size="17" font-weight="normal" text-anchor="end" >0</text>
<text transform="translate(72 346.52) scale(1.04 1)" font-size="17" font-weight="normal" text-anchor="end" >0.2</text>
<text transform="translate(72 327.64) scale(1.04 1)" font-size="17" font-weight="normal" text-anchor="end" >0.4</text>
<text transform="translate(72 308.76) scale(1.04 1)" font-size="17" font-weight="normal" text-anchor="end" >0.6</text>
<path transform="translate(61.25 384) scale(0.00863 -0.00830)" d="M686 0L510 0L510 1060Q420 985 300 935Q220 905 150 890L150 1050Q300 1090 410 1180Q490 1250 530 1409L686 1409Z"/>
<path transform="translate(71.08 384) scale(0.00863 -0.00830)" d="M686 0L510 0L510 1060Q420 985 300 935Q220 905 150 890L150 1050Q300 1090 410 1180Q490 1250 530 1409L686 1409Z"/>
<text transform="translate(76 384) scale(1.04 1)" font-size="17" font-weight="normal" text-anchor="middle" >&#8199;&#8199;0</text>
<path transform="translate(122.01 384) scale(0.00863 -0.00830)" d="M686 0L510 0L510 1060Q420 985 300 935Q220 905 150 890L150 1050Q300 1090 410 1180Q490 1250 530 1409L686 1409Z"/>
<path transform="translate(131.84 384) scale(0.00863 -0.00830)" d="M686 0L510 0L510 1060Q420 985 300 935Q220 905 150 890L150 1050Q300 1090 410 1180Q490 1250 530 1409L686 1409Z"/>
<text transform="translate(136.76 384) scale(1.04 1)" font-size="17" font-weight="normal" text-anchor="middle" >&#8199;&#8199;5</text>
<path transform="translate(182.77 384) scale(0.00863 -0.00830)" d="M686 0L510 0L510 1060Q420 985 300 935Q220 905 150 890L150 1050Q300 1090 410 1180Q490 1250 530 1409L686 1409Z"/>
<text transform="translate(197.52 384) scale(1.04 1)" font-size="17" font-weight="normal" text-anchor="middle" >&#8199;20</text>
<path transform="translate(243.53 384) scale(0.00863 -0.00830)" d="M686 0L510 0L510 1060Q420 985 300 935Q220 905 150 890L150 1050Q300 1090 410 1180Q490 1250 530 1409L686 1409Z"/>
<text transform="translate(258.28 384) scale(1.04 1)" font-size="17" font-weight="normal" text-anchor="middle" >&#8199;25</text>
<path transform="translate(304.29 384) scale(0.00863 -0.00830)" d="M686 0L510 0L510 1060Q420 985 300 935Q220 905 150 890L150 1050Q300 1090 410 1180Q490 1250 530 1409L686 1409Z"/>
<text transform="translate(319.04 384) scale(1.04 1)" font-size="17" font-weight="normal" text-anchor="middle" >&#8199;30</text>
<text transform="translate(29 340) rotate(-90)" font-size="17" font-weight="bold">I/I<tspan font-size="13" dy="8.6">0</tspan></text>
<text transform="translate(1 283.8)" font-size="20.5" font-weight="bold" text-anchor="start" >e</text>
<text transform="translate(321.5 305.4)" font-size="14" font-weight="bold" text-anchor="middle" >N</text>
<path d="M321.5 328.9L325.1 314.8L321.5 317.9L317.9 314.8Z" fill="#000"/>
<line x1="321.5" y1="317.9" x2="321.5" y2="306.8" stroke="#000" stroke-width="0.9"/>
<path d="M283.4 322.3L279.8 337.2L283.4 333.48L287 337.2Z" fill="#000"/>
<line x1="283.4" y1="333.48" x2="283.4" y2="343.6" stroke="#000" stroke-width="0.9"/>
<text transform="translate(279.5 353.5)" font-size="14" font-weight="bold" text-anchor="start" >I</text>
<path transform="translate(283.3 360.3) scale(0.00537 -0.00537)" d="M760 0L470 0L470 1000Q360 930 250 890Q180 865 120 855L120 1080Q300 1120 400 1210Q470 1280 500 1409L760 1409Z"/>
<text transform="translate(283.3 360.3)" font-size="11" font-weight="bold" text-anchor="start" >&#8199;</text>
<path d="M444.5 364.3L444.5 361.3M444.5 293.5L444.5 296.5M584.5 364.3L584.5 361.3M584.5 293.5L584.5 296.5M724.5 364.3L724.5 361.3M724.5 293.5L724.5 296.5M444.5 355.5L447.5 355.5M724.5 355.5L721.5 355.5M444.5 331.25L447.5 331.25M724.5 331.25L721.5 331.25M444.5 307L447.5 307M724.5 307L721.5 307" stroke="#4a4a4a" stroke-width="1" fill="none"/>
<path d="M444.5 364.3L724.5 364.3L724.5 293.5L444.5 293.5" stroke="#4a4a4a" stroke-width="1.2" fill="none"/>
<line x1="444.5" y1="293.5" x2="444.5" y2="364.3" stroke="#4a4a4a" stroke-width="1.2"/>
<g clip-path="url(#cf)">
<path d="M451.22 298.51C452.43 298.71 456.12 299.28 458.5 299.73C460.88 300.17 463.17 300.69 465.5 301.18C467.83 301.67 470.17 302.15 472.5 302.63C474.83 303.12 477.17 303.52 479.5 304.09C481.83 304.66 484.17 305.14 486.5 306.03C488.83 306.92 491.17 308.05 493.5 309.43C495.83 310.8 497 312.01 500.5 314.27C504 316.54 509.83 320.34 514.5 323C519.17 325.67 523.83 328.1 528.5 330.28C533.17 332.46 537.83 334.4 542.5 336.1C547.17 337.8 551.83 339.17 556.5 340.46C561.17 341.76 565.83 342.89 570.5 343.86C575.17 344.83 579.51 345.48 584.5 346.29C589.49 347.09 595.79 347.98 600.46 348.71C605.13 349.44 605.83 350 612.5 350.65C619.17 351.3 631.17 352.1 640.5 352.59C649.83 353.07 659.17 353.24 668.5 353.56C677.83 353.88 687.17 354.25 696.5 354.53C705.83 354.81 719.83 355.14 724.5 355.26" stroke="#0a0aff" stroke-width="1.6" fill="none"/>
</g>
<circle cx="451.2" cy="299.7" r="2.7" fill="none" stroke="#0a0aff" stroke-width="1.3"/>
<circle cx="458.9" cy="298.6" r="2.7" fill="none" stroke="#0a0aff" stroke-width="1.3"/>
<circle cx="458.9" cy="301.4" r="2.7" fill="none" stroke="#0a0aff" stroke-width="1.3"/>
<circle cx="465.4" cy="304.4" r="2.7" fill="none" stroke="#0a0aff" stroke-width="1.3"/>
<circle cx="472.3" cy="305.5" r="2.7" fill="none" stroke="#0a0aff" stroke-width="1.3"/>
<circle cx="479.4" cy="307.2" r="2.7" fill="none" stroke="#0a0aff" stroke-width="1.3"/>
<circle cx="486.2" cy="303.3" r="2.7" fill="none" stroke="#0a0aff" stroke-width="1.3"/>
<circle cx="493.3" cy="306.6" r="2.7" fill="none" stroke="#0a0aff" stroke-width="1.3"/>
<circle cx="500.2" cy="315.8" r="2.7" fill="none" stroke="#0a0aff" stroke-width="1.3"/>
<circle cx="514.2" cy="324.4" r="2.7" fill="none" stroke="#0a0aff" stroke-width="1.3"/>
<circle cx="528.2" cy="330.9" r="2.7" fill="none" stroke="#0a0aff" stroke-width="1.3"/>
<circle cx="542.2" cy="337.3" r="2.7" fill="none" stroke="#0a0aff" stroke-width="1.3"/>
<circle cx="556.1" cy="341.2" r="2.7" fill="none" stroke="#0a0aff" stroke-width="1.3"/>
<circle cx="584.3" cy="348.5" r="2.7" fill="none" stroke="#0a0aff" stroke-width="1.3"/>
<circle cx="612.3" cy="353" r="2.7" fill="none" stroke="#0a0aff" stroke-width="1.3"/>
<circle cx="667.7" cy="353.7" r="2.7" fill="none" stroke="#0a0aff" stroke-width="1.3"/>
<circle cx="724.1" cy="357.7" r="2.7" fill="none" stroke="#0a0aff" stroke-width="1.3"/>
<g>
</g>
<path transform="translate(420.33 361.5) scale(0.00863 -0.00830)" d="M686 0L510 0L510 1060Q420 985 300 935Q220 905 150 890L150 1050Q300 1090 410 1180Q490 1250 530 1409L686 1409Z"/>
<text transform="translate(440 361.5) scale(1.04 1)" font-size="17" font-weight="normal" text-anchor="end" >&#8199;5</text>
<text transform="translate(440 337.25) scale(1.04 1)" font-size="17" font-weight="normal" text-anchor="end" >20</text>
<text transform="translate(440 313) scale(1.04 1)" font-size="17" font-weight="normal" text-anchor="end" >25</text>
<text transform="translate(444.5 384) scale(1.04 1)" font-size="17" font-weight="normal" text-anchor="middle" >0</text>
<text transform="translate(584.5 384) scale(1.04 1)" font-size="17" font-weight="normal" text-anchor="middle" >500</text>
<path transform="translate(704.83 384) scale(0.00863 -0.00830)" d="M686 0L510 0L510 1060Q420 985 300 935Q220 905 150 890L150 1050Q300 1090 410 1180Q490 1250 530 1409L686 1409Z"/>
<text transform="translate(724.5 384) scale(1.04 1)" font-size="17" font-weight="normal" text-anchor="middle" >&#8199;000</text>
<text transform="translate(370.5 287.6)" font-size="20.5" font-weight="bold" text-anchor="start" >f</text>
<g transform="translate(401.5 362.9) rotate(-90)" font-weight="bold"><text font-size="17">R</text><text x="12.3" y="9.4" font-size="13">2</text><text x="12.3" y="-8" font-size="13">eff</text><text x="33" font-size="17">(s</text><text x="48.3" y="-8.2" font-size="13">-</text><path transform="translate(52.63 -8.2) scale(0.00635 -0.00635)" d="M760 0L470 0L470 1000Q360 930 250 890Q180 865 120 855L120 1080Q300 1120 400 1210Q470 1280 500 1409L760 1409Z"/><text x="60.6" font-size="17">)</text></g>
<path d="M540.9 397.4 L542.4 396.7 L545 403.8" stroke="#000" stroke-width="1.9" stroke-linejoin="round" fill="none"/>
<path d="M545 403.6 Q547.6 400.6 548.4 397.4" stroke="#000" stroke-width="1.1" fill="none"/>
<circle cx="548.3" cy="397.6" r="1.1" fill="#000"/>
<text x="549.5" y="412.6" font-size="13" font-weight="bold">CPMG</text>
<text x="593.5" y="404" font-size="18" font-weight="bold">(Hz)</text>
<path d="M76 501.4L76 498.4M76 431.2L76 434.2M169.17 501.4L169.17 498.4M169.17 431.2L169.17 434.2M262.33 501.4L262.33 498.4M262.33 431.2L262.33 434.2M355.5 501.4L355.5 498.4M355.5 431.2L355.5 434.2M76 501.4L79 501.4M355.5 501.4L352.5 501.4M76 466.3L79 466.3M355.5 466.3L352.5 466.3M76 431.2L79 431.2M355.5 431.2L352.5 431.2" stroke="#4a4a4a" stroke-width="1" fill="none"/>
<path d="M76 501.4L355.5 501.4L355.5 431.2L76 431.2" stroke="#4a4a4a" stroke-width="1.2" fill="none"/>
<line x1="76" y1="431.2" x2="76" y2="501.4" stroke="#a0a0a0" stroke-width="2"/>
<g clip-path="url(#cg)">
<path d="M76 431.9 L85.32 431.9 L94.63 432.25 L103.95 432.6 L113.27 432.95 L122.58 433.31 L131.9 433.66 L141.22 434.36 L150.53 435.41 L159.85 436.82 L169.17 438.92 L178.48 441.03 L187.8 448.4 L197.12 456.47 L206.43 478.94 L215.75 500.35 L225.07 501.4 L234.38 498.24 L243.7 474.02 L253.02 456.12 L262.33 445.24 L271.65 441.03 L280.97 438.22 L290.28 436.11 L299.6 435.06 L308.92 434.36 L318.23 433.66 L327.55 433.31 L336.87 432.95 L346.18 432.6 L355.5 432.25" stroke="#0a0aff" stroke-width="1.6" fill="none" stroke-linejoin="round"/>
<path d="M76 431.55 L85.32 431.55 L94.63 431.55 L103.95 431.55 L113.27 431.9 L122.58 431.9 L131.9 432.25 L141.22 432.25 L150.53 432.6 L159.85 432.95 L169.17 433.31 L178.48 433.66 L187.8 435.41 L197.12 438.57 L206.43 447.7 L215.75 488.06 L225.07 501.4 L234.38 475.78 L243.7 448.75 L253.02 439.27 L262.33 435.76 L271.65 434.01 L280.97 432.95 L290.28 431.9 L299.6 431.55 L308.92 431.55 L318.23 431.41 L327.55 431.41 L336.87 431.34 L346.18 431.34 L355.5 431.34" stroke="#d4101c" stroke-width="1.6" fill="none" stroke-linejoin="round"/>
</g>
<circle cx="124.45" cy="431.2" r="2.7" fill="none" stroke="#0a0aff" stroke-width="1.3"/>
<circle cx="152.4" cy="435.76" r="2.7" fill="none" stroke="#0a0aff" stroke-width="1.3"/>
<circle cx="180.35" cy="443.13" r="2.7" fill="none" stroke="#0a0aff" stroke-width="1.3"/>
<circle cx="208.3" cy="481.74" r="2.7" fill="none" stroke="#0a0aff" stroke-width="1.3"/>
<circle cx="236.25" cy="493.68" r="2.7" fill="none" stroke="#0a0aff" stroke-width="1.3"/>
<circle cx="264.2" cy="443.13" r="2.7" fill="none" stroke="#0a0aff" stroke-width="1.3"/>
<circle cx="292.15" cy="435.76" r="2.7" fill="none" stroke="#0a0aff" stroke-width="1.3"/>
<circle cx="329.41" cy="433.66" r="2.7" fill="none" stroke="#0a0aff" stroke-width="1.3"/>
<g>
</g>
<path d="M84.98 429.35L89.38 433.75M84.98 433.75L89.38 429.35M122.25 429.35L126.65 433.75M122.25 433.75L126.65 429.35M150.2 430.4L154.6 434.8M150.2 434.8L154.6 430.4M178.15 432.16L182.55 436.56M178.15 436.56L182.55 432.16M206.1 451.46L210.5 455.86M206.1 455.86L210.5 451.46M234.05 465.08L238.45 469.48M234.05 469.48L238.45 465.08M262 433.21L266.4 437.61M262 437.61L266.4 433.21M289.95 429.35L294.35 433.75M289.95 433.75L294.35 429.35M327.21 429.35L331.61 433.75M327.21 433.75L331.61 429.35" stroke="#d4101c" stroke-width="1.2" fill="none"/>
<g>
</g>
<text transform="translate(72 507.4) scale(1.04 1)" font-size="17" font-weight="normal" text-anchor="end" >0</text>
<text transform="translate(72 472.3) scale(1.04 1)" font-size="17" font-weight="normal" text-anchor="end" >0.5</text>
<path transform="translate(62.17 437.2) scale(0.00863 -0.00830)" d="M686 0L510 0L510 1060Q420 985 300 935Q220 905 150 890L150 1050Q300 1090 410 1180Q490 1250 530 1409L686 1409Z"/>
<text transform="translate(72 437.2) scale(1.04 1)" font-size="17" font-weight="normal" text-anchor="end" >&#8199;</text>
<text transform="translate(76 521.5) scale(1.04 1)" font-size="17" font-weight="normal" text-anchor="middle" >50</text>
<path transform="translate(154.42 521.5) scale(0.00863 -0.00830)" d="M686 0L510 0L510 1060Q420 985 300 935Q220 905 150 890L150 1050Q300 1090 410 1180Q490 1250 530 1409L686 1409Z"/>
<text transform="translate(169.17 521.5) scale(1.04 1)" font-size="17" font-weight="normal" text-anchor="middle" >&#8199;00</text>
<path transform="translate(247.58 521.5) scale(0.00863 -0.00830)" d="M686 0L510 0L510 1060Q420 985 300 935Q220 905 150 890L150 1050Q300 1090 410 1180Q490 1250 530 1409L686 1409Z"/>
<text transform="translate(262.33 521.5) scale(1.04 1)" font-size="17" font-weight="normal" text-anchor="middle" >&#8199;50</text>
<text transform="translate(355.5 521.5) scale(1.04 1)" font-size="17" font-weight="normal" text-anchor="middle" >200</text>
<text transform="translate(29 477.3) rotate(-90)" font-size="17" font-weight="bold">I/I<tspan font-size="13" dy="8.6">0</tspan></text>
<text transform="translate(1 419.5)" font-size="20.5" font-weight="bold" text-anchor="start" >g</text>
<path transform="translate(175.8 539) scale(0.00635 -0.00635)" d="M760 0L470 0L470 1000Q360 930 250 890Q180 865 120 855L120 1080Q300 1120 400 1210Q470 1280 500 1409L760 1409Z"/>
<text transform="translate(175.8 539)" font-size="13" font-weight="bold" text-anchor="start" >&#8199;5</text>
<text x="189.6" y="546.6" font-size="18" font-weight="bold">N (ppm)</text>
<path d="M444.5 501.4L444.5 498.4M444.5 431.2L444.5 434.2M510.12 501.4L510.12 498.4M510.12 431.2L510.12 434.2M575.75 501.4L575.75 498.4M575.75 431.2L575.75 434.2M641.38 501.4L641.38 498.4M641.38 431.2L641.38 434.2M707 501.4L707 498.4M707 431.2L707 434.2M444.5 481.4L447.5 481.4M724.5 481.4L721.5 481.4M444.5 431L447.5 431M724.5 431L721.5 431" stroke="#4a4a4a" stroke-width="1" fill="none"/>
<path d="M444.5 501.4L724.5 501.4L724.5 431.2L444.5 431.2" stroke="#4a4a4a" stroke-width="1.2" fill="none"/>
<line x1="444.5" y1="431.2" x2="444.5" y2="501.4" stroke="#4a4a4a" stroke-width="1.2"/>
<g clip-path="url(#ch)">
<path d="M447.78 431 L451.06 432.19 L454.34 433.37 L457.62 434.54 L460.91 435.69 L464.19 436.82 L467.47 437.95 L470.75 439.06 L474.03 440.15 L477.31 441.24 L480.59 442.31 L483.88 443.37 L487.16 444.41 L490.44 445.45 L493.72 446.47 L497 447.48 L500.28 448.48 L503.56 449.46 L506.84 450.44 L510.12 451.4 L513.41 452.35 L516.69 453.29 L519.97 454.22 L523.25 455.14 L526.53 456.04 L529.81 456.94 L533.09 457.82 L536.38 458.7 L539.66 459.56 L542.94 460.42 L546.22 461.26 L549.5 462.1 L552.78 462.92 L556.06 463.74 L559.34 464.54 L562.62 465.34 L565.91 466.12 L569.19 466.9 L572.47 467.67 L575.75 468.43 L579.03 469.18 L582.31 469.92 L585.59 470.65 L588.88 471.37 L592.16 472.09 L595.44 472.79 L598.72 473.49 L602 474.18 L605.28 474.86 L608.56 475.54 L611.84 476.2 L615.12 476.86 L618.41 477.51 L621.69 478.15 L624.97 478.79 L628.25 479.41 L631.53 480.03 L634.81 480.65 L638.09 481.25 L641.38 481.85 L644.66 482.44 L647.94 483.02 L651.22 483.6 L654.5 484.17 L657.78 484.73 L661.06 485.29 L664.34 485.84 L667.62 486.39 L670.91 486.92 L674.19 487.45 L677.47 487.98 L680.75 488.5 L684.03 489.01 L687.31 489.51 L690.59 490.01 L693.88 490.51 L697.16 491 L700.44 491.48 L703.72 491.96 L707 492.43 L710.28 492.89 L713.56 493.35 L716.84 493.81 L720.12 494.26 L723.41 494.7 L726.69 495.14 L729.97 495.58 L733.25 496 L736.53 496.43 L739.81 496.85" stroke="#0a0aff" stroke-width="1.6" fill="none"/>
</g>
<circle cx="447.78" cy="431" r="2.6" fill="none" stroke="#0a0aff" stroke-width="1.3"/>
<circle cx="493.72" cy="448.54" r="2.6" fill="none" stroke="#0a0aff" stroke-width="1.3"/>
<circle cx="542.94" cy="462.95" r="2.6" fill="none" stroke="#0a0aff" stroke-width="1.3"/>
<circle cx="592.16" cy="472.53" r="2.6" fill="none" stroke="#0a0aff" stroke-width="1.3"/>
<circle cx="641.38" cy="482.51" r="2.6" fill="none" stroke="#0a0aff" stroke-width="1.3"/>
<circle cx="710.28" cy="492.49" r="2.6" fill="none" stroke="#0a0aff" stroke-width="1.3"/>
<g>
</g>
<text transform="translate(440 487.4) scale(1.04 1)" font-size="17" font-weight="normal" text-anchor="end" >0.5</text>
<path transform="translate(430.17 437) scale(0.00863 -0.00830)" d="M686 0L510 0L510 1060Q420 985 300 935Q220 905 150 890L150 1050Q300 1090 410 1180Q490 1250 530 1409L686 1409Z"/>
<text transform="translate(440 437) scale(1.04 1)" font-size="17" font-weight="normal" text-anchor="end" >&#8199;</text>
<text transform="translate(444.5 521.5) scale(1.04 1)" font-size="17" font-weight="normal" text-anchor="middle" >0</text>
<text transform="translate(510.12 521.5) scale(1.04 1)" font-size="17" font-weight="normal" text-anchor="middle" >0.02</text>
<text transform="translate(575.75 521.5) scale(1.04 1)" font-size="17" font-weight="normal" text-anchor="middle" >0.04</text>
<text transform="translate(641.38 521.5) scale(1.04 1)" font-size="17" font-weight="normal" text-anchor="middle" >0.06</text>
<text transform="translate(707 521.5) scale(1.04 1)" font-size="17" font-weight="normal" text-anchor="middle" >0.08</text>
<text transform="translate(401 478.2) rotate(-90)" font-size="17" font-weight="bold">I/I<tspan font-size="13" dy="8.6">0</tspan></text>
<text transform="translate(565 541.5)" font-size="18" font-weight="bold" text-anchor="start" >t (s)</text>
<text transform="translate(370 423.5)" font-size="20.5" font-weight="bold" text-anchor="start" >h</text>
</svg>
</body></html>
